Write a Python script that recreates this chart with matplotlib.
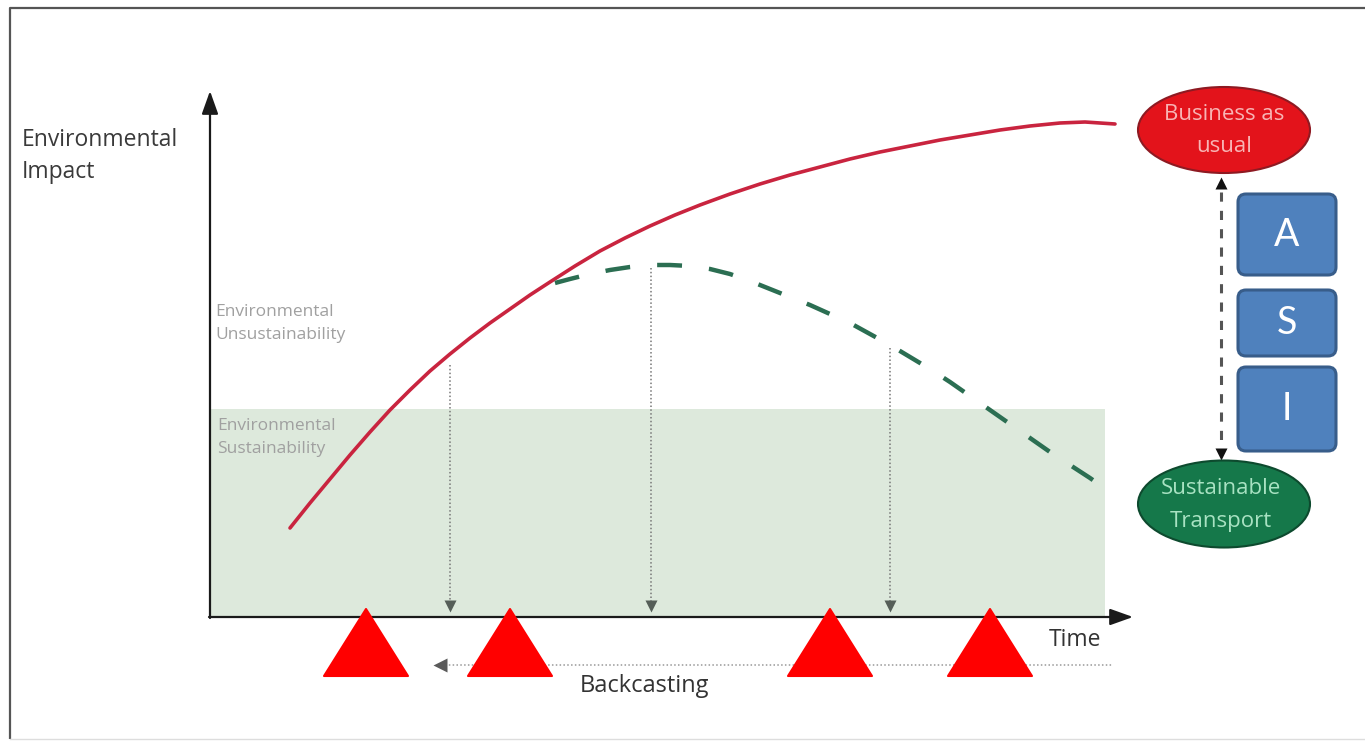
import numpy as np
import matplotlib
matplotlib.use("Agg")
import matplotlib.pyplot as plt
from matplotlib.patches import Ellipse, FancyBboxPatch, Polygon, Rectangle

# everything is laid out in pixel units of the 1365x741 picture
W, H = 1365, 741

# business as usual curve (red)
bau_x = [290, 310, 330, 350, 370, 390, 410, 430, 450, 470, 490, 510, 530,
         550, 575, 600, 625, 650, 675, 700, 730, 760, 790, 820, 850, 880,
         910, 940, 970, 1000, 1030, 1060, 1085, 1115]
bau_y = [528, 503, 479, 455, 432, 410, 390, 371, 354, 338, 323, 309, 295,
         282, 266, 251, 238, 226, 215, 205, 194, 184, 175, 167, 159, 152,
         146, 140, 135, 130, 126, 123, 122, 124]

# sustainable path (green dashed)
sus_x = [555, 570, 590, 610, 630, 650, 670, 690, 710, 730, 750, 770, 790,
         810, 830, 850, 870, 890, 910, 930, 950, 970, 990, 1010, 1030, 1050,
         1070, 1090, 1107]
sus_y = [283, 279, 274, 270, 267, 265, 265, 266, 269, 274, 281, 289, 297,
         305, 314, 323, 334, 345, 357, 369, 382, 396, 410, 424, 438, 452,
         465, 478, 490]

# backcasting drop lines: x position and top of the line
drop_x = [450, 651, 890]
drop_top = [365, 268, 348]

# red warning triangles along the time axis
tri_x = [366, 510, 830, 990]

asi_labels = ["A", "S", "I"]
asi_top = [194, 290, 367]
asi_bottom = [275, 356, 451]

fig = plt.figure(figsize=(W / 100, H / 100), dpi=100)
ax = fig.add_axes([0, 0, 1, 1])
ax.set_xlim(0, W)
ax.set_ylim(H, 0)
ax.axis("off")

font = "Open Sans"

# outer frame
ax.plot([10, 10, W + 5], [739, 8, 8], color="#555555", lw=1.6, solid_capstyle="butt")
ax.plot([10, W], [739, 739], color="#dddddd", lw=1.0)

# sustainability zone
ax.add_patch(Rectangle((210, 409), 1105 - 210, 617 - 409, facecolor="#dde9dc",
                       edgecolor="none", zorder=1))

# axes with arrows
ax.annotate("", xy=(210, 91), xytext=(210, 618),
            arrowprops=dict(arrowstyle="-|>,head_length=1.4,head_width=0.5",
                            color="#1a1a1a", lw=1.6, shrinkA=0, shrinkB=0), zorder=3)
ax.annotate("", xy=(1133, 617), xytext=(209, 617),
            arrowprops=dict(arrowstyle="-|>,head_length=1.4,head_width=0.5",
                            color="#1a1a1a", lw=1.6, shrinkA=0, shrinkB=0), zorder=3)

# curves
ax.plot(bau_x, bau_y, color="#c9243f", lw=2.6, solid_capstyle="round", zorder=4)
ax.plot(sus_x, sus_y, color="#2b6e52", lw=3.2, dashes=(5.6, 6.1), zorder=4)

# dotted drop arrows
for x, top in zip(drop_x, drop_top):
    ax.plot([x, x], [top, 604], color="#777777", lw=1.1, ls=(0, (1, 1.5)), zorder=3)
    ax.plot(x, 606, marker="v", ms=9, color="#555e58", mec="none", zorder=3)

# backcasting arrow
ax.plot([445, 1112], [665, 665], color="#999999", lw=1.1, ls=(0, (1, 1.5)), zorder=3)
ax.plot(440, 665, marker="<", ms=10, color="#5a5a5a", mec="none", zorder=3)

# texts
ax.text(22, 140, "Environmental", fontsize=16.5, family=font, color="#3a3a3a", va="center")
ax.text(22, 172, "Impact", fontsize=16.5, family=font, color="#3a3a3a", va="center")
ax.text(215, 312, "Environmental", fontsize=12.5, family=font, color="#a0a0a0", va="center")
ax.text(215, 335, "Unsustainability", fontsize=12.5, family=font, color="#a0a0a0", va="center")
ax.text(217, 426, "Environmental", fontsize=12.5, family=font, color="#a0a0a0", va="center")
ax.text(217, 449, "Sustainability", fontsize=12.5, family=font, color="#a0a0a0", va="center")
ax.text(1075, 640, "Time", fontsize=16.5, family=font, color="#333333", ha="center", va="center")
ax.text(644, 686, "Backcasting", fontsize=17, family=font, color="#333333", ha="center", va="center")

# scenario ellipses
ax.add_patch(Ellipse((1224, 130), 172, 86, facecolor="#e3131b", edgecolor="#8e1a22",
                     lw=1.5, zorder=5))
ax.text(1224, 115, "Business as", fontsize=16, family=font, color="#f8b4b4",
        ha="center", va="center", zorder=6)
ax.text(1224, 147, "usual", fontsize=16, family=font, color="#f8b4b4",
        ha="center", va="center", zorder=6)
ax.add_patch(Ellipse((1224, 504), 172, 87, facecolor="#15784a", edgecolor="#0d4a2e",
                     lw=1.5, zorder=5))
ax.text(1221, 489, "Sustainable", fontsize=16, family=font, color="#a8e2c2",
        ha="center", va="center", zorder=6)
ax.text(1221, 521, "Transport", fontsize=16, family=font, color="#a8e2c2",
        ha="center", va="center", zorder=6)

# double dashed arrow between scenarios
ax.plot([1221, 1221], [192, 446], color="#555555", lw=2.2, dashes=(3, 3), zorder=4)
ax.plot(1221, 183, marker="^", ms=9, color="#111111", mec="none", zorder=4)
ax.plot(1221, 454, marker="v", ms=9, color="#111111", mec="none", zorder=4)

# ASI boxes
for lab, t, b in zip(asi_labels, asi_top, asi_bottom):
    ax.add_patch(FancyBboxPatch((1238 + 8, t + 8), 98 - 16, (b - t) - 16,
                                boxstyle="round,pad=8", facecolor="#4f81bd",
                                edgecolor="#385d8a", lw=2.2, zorder=5))
    ax.text(1287, (t + b) / 2, lab, fontsize=27, family="Lato", color="white",
            ha="center", va="center", zorder=6)

# red triangles
for cx in tri_x:
    ax.add_patch(Polygon([[cx - 42, 676], [cx + 42, 676], [cx, 609]], closed=True,
                         facecolor="#ff0000", edgecolor="#ff0000", lw=1.5,
                         joinstyle="round", zorder=7))

fig.savefig("out.png", dpi=100)
